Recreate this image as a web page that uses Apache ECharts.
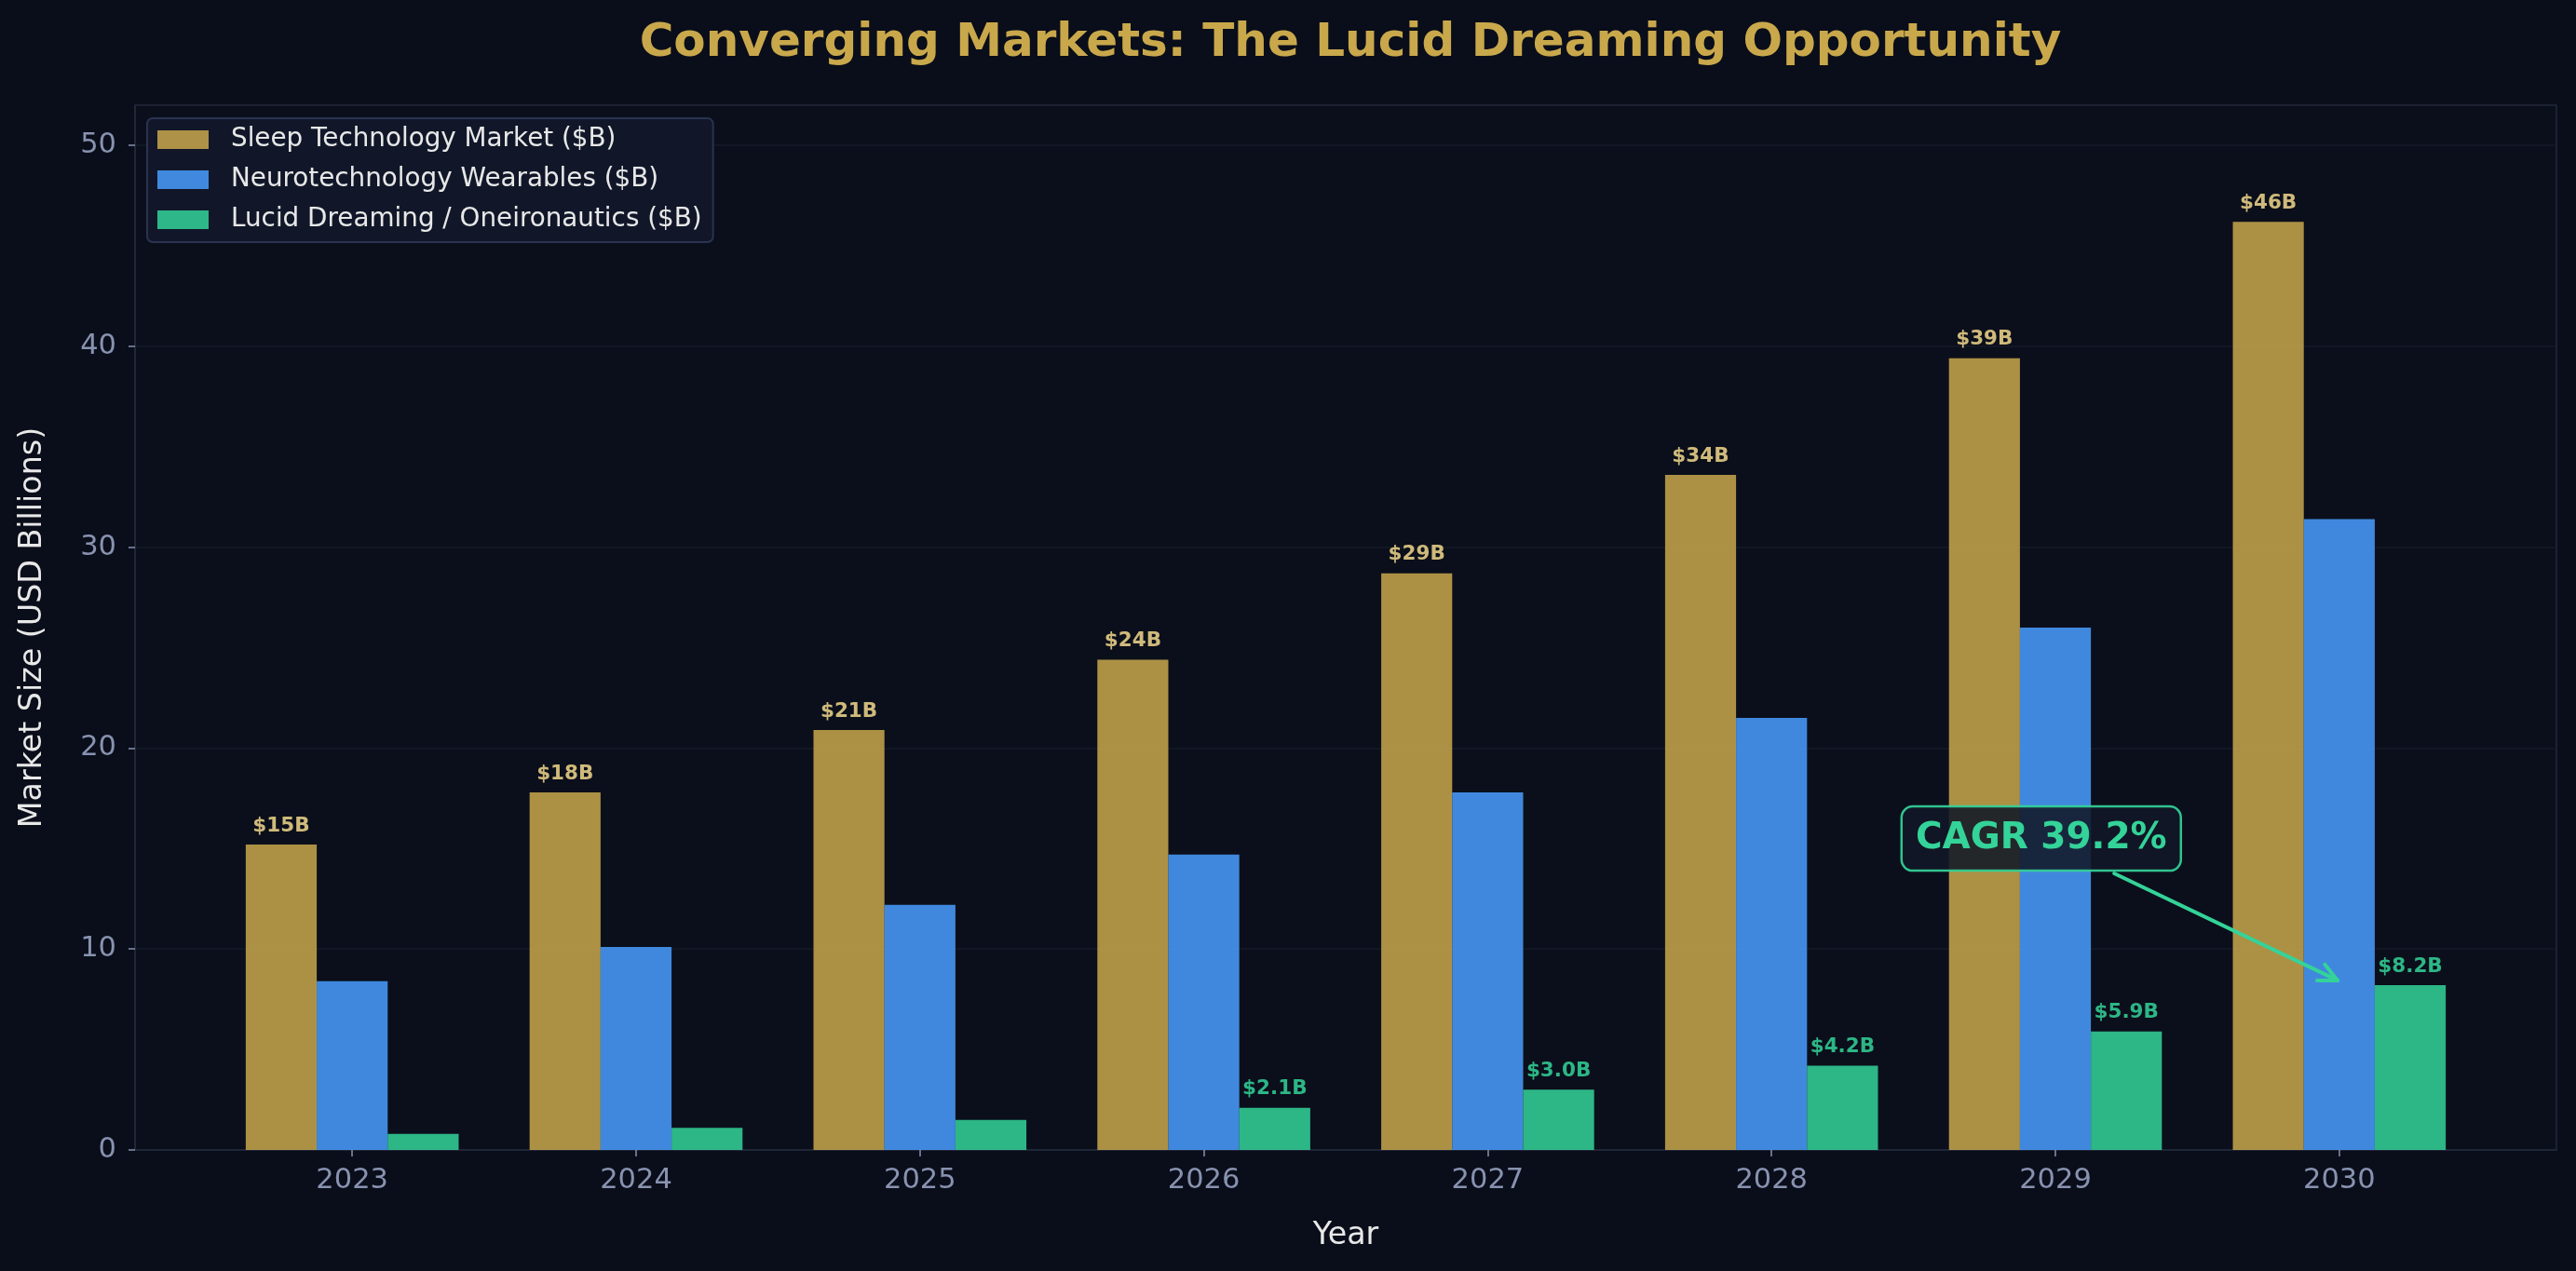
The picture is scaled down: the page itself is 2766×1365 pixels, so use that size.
<!DOCTYPE html>
<html><head><meta charset="utf-8">
<script src="https://cdn.jsdelivr.net/npm/echarts@6/dist/echarts.min.js"></script>
<style>html,body{margin:0;padding:0;background:#0a0e1a;}#c{width:2766px;height:1365px;}</style>
</head><body><div id="c"></div>
<script>
const years = ['2023', '2024', '2025', '2026', '2027', '2028', '2029', '2030'];
const sleepTech = [15.2, 17.8, 20.9, 24.4, 28.7, 33.6, 39.4, 46.2];
const neuroWear = [8.4, 10.1, 12.2, 14.7, 17.8, 21.5, 26.0, 31.4];
const lucidDream = [0.8, 1.1, 1.5, 2.1, 3.0, 4.2, 5.9, 8.2];
const seriesNames = ['Sleep Technology Market ($B)', 'Neurotechnology Wearables ($B)', 'Lucid Dreaming / Oneironautics ($B)'];
const yTicks = [0, 10, 20, 30, 40, 50];
const cagrLabel = 'CAGR 39.2%';
const cagrTextAt = [5.95, 15.5];
const cagrArrowTo = [7.0, 8.4];

const FONT = 'DejaVu Sans';
const GRID = {left: 145, right: 21, top: 113, bottom: 130};
const X_MIN = -0.765, X_MAX = 7.765;
const unit = (2766 - GRID.left - GRID.right) / (X_MAX - X_MIN);
const barW = unit * 0.25;

const chart = echarts.init(document.getElementById('c'), null, {renderer: 'canvas'});

function pts(arr) { return arr.map((v, i) => [i, v]); }

const option = {
  backgroundColor: '#0a0e1a',
  animation: false,
  textStyle: {fontFamily: FONT},
  title: {
    text: 'Converging Markets: The Lucid Dreaming Opportunity',
    left: (GRID.left + 2766 - GRID.right) / 2, top: 42, textAlign: 'center', textVerticalAlign: 'middle',
    textStyle: {color: '#c9a84c', fontFamily: FONT, fontWeight: 'bold', fontSize: 50}
  },
  legend: {
    orient: 'vertical', left: 158, top: 127,
    data: seriesNames,
    icon: 'rect', itemWidth: 55, itemHeight: 20, itemGap: 13,
    padding: [8, 12, 9, 11],
    backgroundColor: '#111729', borderColor: '#2a3350', borderWidth: 2, borderRadius: 6,
    textStyle: {color: '#e8e8e8', fontFamily: FONT, fontSize: 27.8, lineHeight: 30, padding: [0, 0, 0, 19]}
  },
  grid: Object.assign({show: true, backgroundColor: '#0b0f1b', borderColor: '#232a3d', borderWidth: 1.5,
    containLabel: false, outerBoundsMode: 'none'}, GRID),
  xAxis: {
    type: 'value', min: X_MIN, max: X_MAX,
    name: 'Year', nameLocation: 'middle', nameGap: 76,
    nameTextStyle: {color: '#e8e8e8', fontFamily: FONT, fontSize: 33.3},
    axisLine: {show: true, onZero: false, lineStyle: {color: '#232a3d', width: 1.5}},
    axisTick: {show: true, length: 7, lineStyle: {color: '#8892b0', width: 1.5}, customValues: years.map((_, i) => i)},
    axisLabel: {color: '#8892b0', fontFamily: FONT, fontSize: 30.5, margin: 18,
      customValues: years.map((_, i) => i), formatter: v => years[Math.round(v)] || ''},
    splitLine: {show: false}
  },
  yAxis: {
    type: 'value', min: 0, max: 52,
    name: 'Market Size (USD Billions)', nameLocation: 'middle', nameGap: 93, nameRotate: 90,
    nameTextStyle: {color: '#e8e8e8', fontFamily: FONT, fontSize: 33.3},
    axisLine: {show: true, onZero: false, lineStyle: {color: '#232a3d', width: 1.5}},
    axisTick: {show: true, length: 7, lineStyle: {color: '#8892b0', width: 1.5}, customValues: yTicks},
    axisLabel: {color: '#8892b0', fontFamily: FONT, fontSize: 30.5, margin: 20, padding: [5, 0, 0, 0], customValues: yTicks},
    splitLine: {show: true, lineStyle: {color: '#161b2a', width: 1.5}}
  },
  series: [
    {
      name: seriesNames[0], type: 'bar', data: pts(sleepTech), barWidth: barW, barGap: '0%',
      itemStyle: {color: '#c9a84c', opacity: 0.85},
      label: {show: true, position: 'top', distance: 9, color: '#f2d88c', fontFamily: FONT, fontWeight: 'bold', fontSize: 21.5,
        formatter: p => '$' + p.value[1].toFixed(0) + 'B'}
    },
    {
      name: seriesNames[1], type: 'bar', data: pts(neuroWear), barWidth: barW, barGap: '0%',
      itemStyle: {color: '#4a9eff', opacity: 0.85}
    },
    {
      name: seriesNames[2], type: 'bar', data: pts(lucidDream), barWidth: barW, barGap: '0%',
      itemStyle: {color: '#34d399', opacity: 0.85},
      label: {show: true, position: 'top', distance: 9, color: '#34d399', fontFamily: FONT, fontWeight: 'bold', fontSize: 21.5,
        formatter: p => p.value[1] >= 2 ? '$' + p.value[1].toFixed(1) + 'B' : ''}
    }
  ]
};
chart.setOption(option);

// Annotation (text box + arrow) placed through the chart's own scales
const tc = chart.convertToPixel({gridIndex: 0}, cagrTextAt);
const tp = chart.convertToPixel({gridIndex: 0}, cagrArrowTo);
const boxW = 300, boxH = 69;
const dy = tp[1] - tc[1], dx = tp[0] - tc[0];
const t0 = (boxH / 2 + 3) / dy;
const sx = tc[0] + dx * t0, sy = tc[1] + dy * t0;
const ang = Math.atan2(dy, dx);
const ex = tp[0] - 2 * Math.cos(ang), ey = tp[1] - 2 * Math.sin(ang);
const hl = 22, ha = 0.45;
const h1 = [ex - hl * Math.cos(ang - ha), ey - hl * Math.sin(ang - ha)];
const h2 = [ex - hl * Math.cos(ang + ha), ey - hl * Math.sin(ang + ha)];
chart.setOption({
  graphic: [
    {type: 'line', z: 100, shape: {x1: sx, y1: sy, x2: ex, y2: ey},
      style: {stroke: '#34d399', lineWidth: 4, lineCap: 'round'}},
    {type: 'polyline', z: 100, shape: {points: [h1, [ex, ey], h2]},
      style: {stroke: '#34d399', lineWidth: 4, lineCap: 'round', lineJoin: 'round', fill: null}},
    {type: 'rect', z: 101, shape: {x: tc[0] - boxW / 2, y: tc[1] - boxH / 2, width: boxW, height: boxH, r: 12},
      style: {fill: 'rgba(17,24,39,0.88)', stroke: 'rgba(52,211,153,0.92)', lineWidth: 2.5}},
    {type: 'text', z: 102, x: tc[0], y: tc[1],
      style: {text: cagrLabel, fill: '#34d399', font: 'bold 39px "DejaVu Sans"', align: 'center', verticalAlign: 'middle'}}
  ]
});
</script>
</body></html>
